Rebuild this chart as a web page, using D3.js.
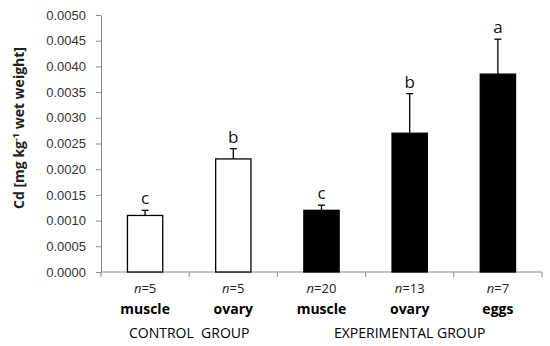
<!DOCTYPE html>
<html>
<head>
<meta charset="utf-8">
<script src="https://cdn.jsdelivr.net/npm/d3@7"></script>
<style>
  body { margin: 0; background: #fff; }
  svg { font-family: "Open Sans", sans-serif; }
</style>
</head>
<body>
<svg id="chart" width="550" height="346"></svg>
<script>
// values
const tissues = ['muscle', 'ovary', 'muscle', 'ovary', 'eggs'];
const sampleSizes = [5, 5, 20, 13, 7];
const means = [0.0011, 0.0022, 0.0012, 0.0027, 0.00385];
const errors = [0.0001, 0.0002, 0.0001, 0.00077, 0.00068];
const letters = ['c', 'b', 'c', 'b', 'a'];
const isControl = [true, true, false, false, false];
const groupNames = ['CONTROL  GROUP', 'EXPERIMENTAL GROUP'];
const groupSpans = [[0, 1], [2, 4]];
const yTicks = [0, 0.0005, 0.001, 0.0015, 0.002, 0.0025, 0.003, 0.0035, 0.004, 0.0045, 0.005];

const width = 550;
const height = 346;
const margin = { top: 15, right: 8, bottom: 74, left: 101 };

const svg = d3.select('#chart');
const idx = tissues.map((d, i) => i);

const x = d3.scaleBand()
  .domain(idx)
  .range([margin.left, width - margin.right])
  .padding(0);

const y = d3.scaleLinear()
  .domain([0, 0.005])
  .range([height - margin.bottom, margin.top]);

const axisColor = '#8a8a8a';
const barW = x.bandwidth() * 0.4;

// y axis
const yAxis = svg.append('g')
  .attr('transform', `translate(${margin.left},0)`)
  .call(d3.axisLeft(y)
    .tickValues(yTicks)
    .tickFormat(d3.format('.4f'))
    .tickSize(5)
    .tickSizeOuter(0)
    .tickPadding(10));
yAxis.select('.domain').attr('stroke', axisColor);
yAxis.selectAll('.tick line').attr('stroke', axisColor);
yAxis.selectAll('.tick text')
  .attr('fill', '#333')
  .style('font-size', '13px');

// x axis baseline + boundary ticks
const xg = svg.append('g');
xg.append('line')
  .attr('x1', x.range()[0])
  .attr('x2', x.range()[1])
  .attr('y1', y(0))
  .attr('y2', y(0))
  .attr('stroke', axisColor);
const edges = idx.map(i => x(i)).concat([x.range()[1]]);
xg.selectAll('line.edge')
  .data(edges)
  .enter()
  .append('line')
  .attr('class', 'edge')
  .attr('x1', d => d)
  .attr('x2', d => d)
  .attr('y1', y(0))
  .attr('y2', y(0) + 5)
  .attr('stroke', axisColor);

// bars
const cx = i => x(i) + x.bandwidth() / 2;

svg.selectAll('rect.bar')
  .data(idx)
  .enter()
  .append('rect')
  .attr('class', 'bar')
  .attr('x', i => cx(i) - barW / 2)
  .attr('y', i => y(means[i]))
  .attr('width', barW)
  .attr('height', i => y(0) - y(means[i]))
  .attr('fill', i => (isControl[i] ? '#fff' : '#000'))
  .attr('stroke', '#000')
  .attr('stroke-width', 1.3);

// error bars (upper only)
const err = svg.selectAll('g.err')
  .data(idx)
  .enter()
  .append('g')
  .attr('class', 'err')
  .attr('stroke', '#000')
  .attr('stroke-width', 1.3);
err.append('line')
  .attr('x1', cx)
  .attr('x2', cx)
  .attr('y1', i => y(means[i]))
  .attr('y2', i => y(means[i] + errors[i]));
err.append('line')
  .attr('x1', i => cx(i) - 3.5)
  .attr('x2', i => cx(i) + 3.5)
  .attr('y1', i => y(means[i] + errors[i]))
  .attr('y2', i => y(means[i] + errors[i]));

// significance letters
svg.selectAll('text.letter')
  .data(idx)
  .enter()
  .append('text')
  .attr('class', 'letter')
  .attr('x', cx)
  .attr('y', i => y(means[i] + errors[i]) - 6)
  .attr('text-anchor', 'middle')
  .style('font-size', '17px')
  .attr('fill', '#111')
  .text(i => letters[i]);

// n = labels
const nText = svg.selectAll('text.n')
  .data(idx)
  .enter()
  .append('text')
  .attr('class', 'n')
  .attr('x', cx)
  .attr('y', 293)
  .attr('text-anchor', 'middle')
  .style('font-size', '13px')
  .attr('fill', '#222');
nText.append('tspan').style('font-style', 'italic').text('n');
nText.append('tspan').text(i => '=' + sampleSizes[i]);

// tissue labels
svg.selectAll('text.tissue')
  .data(idx)
  .enter()
  .append('text')
  .attr('class', 'tissue')
  .attr('x', cx)
  .attr('y', 314)
  .attr('text-anchor', 'middle')
  .style('font-size', '14px')
  .style('font-weight', 'bold')
  .attr('fill', '#000')
  .text(i => tissues[i]);

// group labels
svg.selectAll('text.group')
  .data(groupNames)
  .enter()
  .append('text')
  .attr('class', 'group')
  .attr('x', (d, g) => (cx(groupSpans[g][0]) + cx(groupSpans[g][1])) / 2)
  .attr('y', 338)
  .attr('text-anchor', 'middle')
  .style('font-size', '14px')
  .style('white-space', 'pre')
  .attr('fill', '#000')
  .text(d => d);

// y title
const yt = svg.append('text')
  .attr('transform', 'translate(24,128) rotate(-90)')
  .attr('text-anchor', 'middle')
  .style('font-size', '14px')
  .style('font-weight', 'bold')
  .attr('fill', '#222');
yt.append('tspan').text('Cd [mg kg');
yt.append('tspan').attr('dy', -5).style('font-size', '9px').text('-1');
yt.append('tspan').attr('dy', 5).text(' wet weight]');
</script>
</body>
</html>
